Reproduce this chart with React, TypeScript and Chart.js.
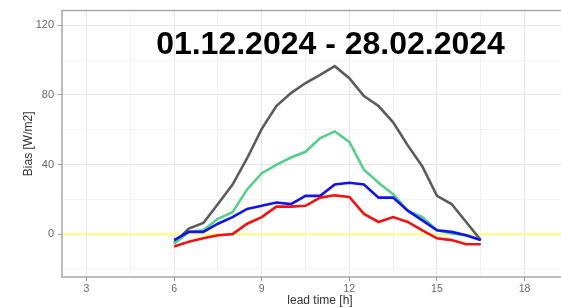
import React, { useEffect, useRef } from "react";
import { Chart, registerables } from "chart.js";

Chart.register(...registerables);

const leadTime = [6, 6.5, 7, 7.5, 8, 8.5, 9, 9.5, 10, 10.5, 11, 11.5, 12, 12.5, 13, 13.5, 14, 14.5, 15, 15.5, 16, 16.5];
const graySeries = [-5, 3.2, 6.4, 17.3, 28.5, 43.6, 60.5, 73.6, 81, 86.8, 91.5, 96.5, 89.6, 79.3, 73.6, 64.2, 51, 38.9, 22, 17.3, 7, -3.4];
const greenSeries = [-5.5, 1.3, 2.2, 8.8, 12.6, 25.7, 35, 39.8, 44, 47.3, 55.2, 59, 53, 37, 29.5, 23, 13.5, 9.8, 2.2, 0.4, -0.7, -3.4];
const blueSeries = [-3.4, 1.3, 1.3, 6, 9.8, 14.5, 16.3, 18.2, 17.3, 22, 22, 28.5, 29.5, 28.5, 21, 21, 13.5, 7.9, 2.2, 1.3, -0.6, -3.4];
const redSeries = [-7.1, -4.3, -2.4, -0.6, 0, 6, 9.8, 15.8, 15.8, 16.3, 21, 22.3, 21.4, 11.6, 7, 9.8, 7, 2.2, -2.4, -3.4, -5.8, -5.8];

const xTicks = [3, 4.5, 6, 7.5, 9, 10.5, 12, 13.5, 15, 16.5, 18, 19.5];
const xLabeled = [3, 6, 9, 12, 15, 18];
const yTicks = [-20, 0, 20, 40, 60, 80, 100, 120];
const yLabeled = [0, 40, 80, 120];
const zeroLine = 0;
const titleText = "01.12.2024 - 28.02.2024";

const toPoints = (ys: number[]) => leadTime.map((x, i) => ({ x, y: ys[i] }));

const isMajor = (list: number[], v: number) => list.some((m) => Math.abs(m - v) < 1e-6);

const FONT = "'Liberation Sans', Arial, sans-serif";

export default function App() {
  const ref = useRef<HTMLCanvasElement | null>(null);

  useEffect(() => {
    if (!ref.current) return;

    const overlay = {
      id: "overlay",
      beforeDatasetsDraw(chart: any) {
        const { ctx, chartArea, scales } = chart;
        const y = scales.y.getPixelForValue(zeroLine);
        ctx.save();
        ctx.strokeStyle = "rgba(255,255,110,0.9)";
        ctx.lineWidth = 2;
        ctx.beginPath();
        ctx.moveTo(chartArea.left, y);
        ctx.lineTo(chartArea.right, y);
        ctx.stroke();
        ctx.restore();
      },
      afterDraw(chart: any) {
        const { ctx, chartArea } = chart;
        ctx.save();
        ctx.strokeStyle = "#a8a8a8";
        ctx.lineWidth = 1.5;
        ctx.beginPath();
        ctx.moveTo(chartArea.right, chartArea.top);
        ctx.lineTo(chartArea.left, chartArea.top);
        ctx.lineTo(chartArea.left, chartArea.bottom);
        ctx.lineTo(chartArea.right, chartArea.bottom);
        ctx.stroke();
        ctx.fillStyle = "#000";
        ctx.font = `bold 32px ${FONT}`;
        ctx.textAlign = "center";
        ctx.textBaseline = "alphabetic";
        ctx.fillText(titleText, 330.5, 53.5);
        ctx.restore();
      },
    };

    const chart = new Chart(ref.current, {
      type: "line",
      data: {
        datasets: [
          { label: "gray", data: toPoints(graySeries), borderColor: "#5c5c5c", order: 4 },
          { label: "green", data: toPoints(greenSeries), borderColor: "#55d08a", order: 3 },
          { label: "blue", data: toPoints(blueSeries), borderColor: "#1414e6", order: 2 },
          { label: "red", data: toPoints(redSeries), borderColor: "#ee1414", order: 1 },
        ].map((d) => ({ ...d, borderWidth: 2.6, pointRadius: 0, tension: 0, fill: false })),
      },
      options: {
        animation: false,
        responsive: false,
        layout: { padding: { top: 6, right: 0, left: 0, bottom: 0 } },
        plugins: { legend: { display: false }, tooltip: { enabled: false }, title: { display: false } },
        scales: {
          x: {
            type: "linear",
            min: 2.16,
            max: 19.83,
            afterBuildTicks: (s: any) => {
              s.ticks = xTicks.map((value) => ({ value }));
            },
            afterFit: (s: any) => {
              s.height = 31;
            },
            border: { display: false },
            grid: {
              color: (c: any) => (isMajor(xLabeled, c.tick?.value) ? "#e6e6e6" : "#f3f3f3"),
              lineWidth: 1,
              drawTicks: true,
              tickLength: 4,
              tickColor: (c: any) => (isMajor(xLabeled, c.tick?.value) ? "#9a9a9a" : "rgba(0,0,0,0)"),
            },
            ticks: {
              autoSkip: false,
              maxRotation: 0,
              padding: 2,
              color: "#6a6a6a",
              font: { family: FONT, size: 10.5 },
              callback: (v: any) => (isMajor(xLabeled, Number(v)) ? String(v) : ""),
            },
            title: {
              display: true,
              text: "lead time [h]",
              color: "#333",
              font: { family: FONT, size: 12 },
              padding: { top: 0, bottom: 0 },
            },
          },
          y: {
            type: "linear",
            min: -24.6,
            max: 128.4,
            afterBuildTicks: (s: any) => {
              s.ticks = yTicks.map((value) => ({ value }));
            },
            afterFit: (s: any) => {
              s.width = 62;
            },
            border: { display: false },
            grid: {
              color: (c: any) => (isMajor(yLabeled, c.tick?.value) ? "#e6e6e6" : "#f3f3f3"),
              lineWidth: 1,
              drawTicks: true,
              tickLength: 4,
              tickColor: (c: any) => (isMajor(yLabeled, c.tick?.value) ? "#9a9a9a" : "rgba(0,0,0,0)"),
            },
            ticks: {
              autoSkip: false,
              padding: 4,
              color: "#6a6a6a",
              font: { family: FONT, size: 11 },
              callback: (v: any) => (isMajor(yLabeled, Number(v)) ? String(v) : ""),
            },
            title: {
              display: true,
              text: "Bias [W/m2]",
              color: "#333",
              font: { family: FONT, size: 12 },
              padding: { top: 21, bottom: 0 },
            },
          },
        },
      },
      plugins: [overlay],
    } as any);

    return () => chart.destroy();
  }, []);

  return (
    <div style={{ position: "fixed", left: 0, top: 0, width: 561, height: 308, overflow: "hidden", background: "#fff" }}>
      <canvas ref={ref} width={578} height={308} style={{ display: "block" }} />
    </div>
  );
}
